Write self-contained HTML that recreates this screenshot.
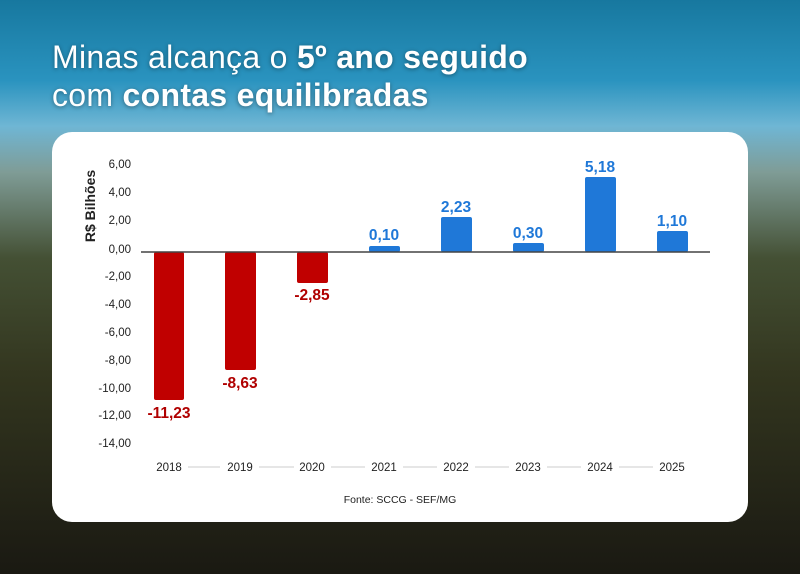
<!DOCTYPE html>
<html><head><meta charset="utf-8"><style>
body{margin:0;width:800px;height:574px;overflow:hidden;position:relative;font-family:"Liberation Sans",sans-serif;
background:linear-gradient(180deg,#17789f 0%,#2a93bf 14%,#6fb6d4 22%,#7f9c96 30%,#445034 45%,#33361f 65%,#1a1912 100%);}
.t{position:absolute;left:52px;color:#fff;font-size:32px;text-shadow:0 1px 4px rgba(0,0,0,.4);letter-spacing:0.3px}
.card{position:absolute;left:52px;top:132px;width:696px;height:390px;background:#fff;border-radius:20px}
</style></head><body>
<div class="t" style="top:39px">Minas alcança o <b>5º ano seguido</b></div>
<div class="t" style="top:77px">com <b>contas equilibradas</b></div>
<div class="card"></div>
<svg width="800" height="574" style="position:absolute;left:0;top:0" font-family="Liberation Sans, sans-serif">
<g font-size="11.5" fill="#222" text-anchor="end">
<text x="131" y="168">6,00</text><text x="131" y="196">4,00</text><text x="131" y="224">2,00</text><text x="131" y="253">0,00</text>
<text x="131" y="280">-2,00</text><text x="131" y="308">-4,00</text><text x="131" y="336">-6,00</text><text x="131" y="364">-8,00</text>
<text x="131" y="392">-10,00</text><text x="131" y="419">-12,00</text><text x="131" y="447">-14,00</text>
</g>
<text transform="translate(95,206) rotate(-90)" text-anchor="middle" font-size="14" font-weight="bold" fill="#222">R$ Bilhões</text>
<g fill="#c00000">
<rect x="154" y="252" width="30" height="148" rx="2"/><rect x="225" y="252" width="31" height="118" rx="2"/><rect x="297" y="252" width="31" height="31" rx="2"/>
</g>
<g fill="#1f78d8">
<rect x="369" y="246" width="31" height="6" rx="2"/><rect x="441" y="217" width="31" height="35" rx="2"/><rect x="513" y="243" width="31" height="9" rx="2"/>
<rect x="585" y="177" width="31" height="75" rx="2"/><rect x="657" y="231" width="31" height="21" rx="2"/>
</g>
<line x1="141" y1="252" x2="710" y2="252" stroke="#444" stroke-width="1.5"/>
<g font-size="15.5" font-weight="bold" text-anchor="middle" fill="#b00000">
<text x="169" y="418">-11,23</text><text x="240" y="388">-8,63</text><text x="312" y="300">-2,85</text>
</g>
<g font-size="15.5" font-weight="bold" text-anchor="middle" fill="#1f78d8">
<text x="384" y="240">0,10</text><text x="456" y="212">2,23</text><text x="528" y="238">0,30</text><text x="600" y="172">5,18</text><text x="672" y="226">1,10</text>
</g>
<g stroke="#ccc" stroke-width="1">
<line x1="188" y1="467" x2="220" y2="467"/><line x1="259" y1="467" x2="294" y2="467"/><line x1="331" y1="467" x2="365" y2="467"/>
<line x1="403" y1="467" x2="437" y2="467"/><line x1="475" y1="467" x2="509" y2="467"/><line x1="547" y1="467" x2="581" y2="467"/><line x1="619" y1="467" x2="653" y2="467"/>
</g>
<g font-size="11.5" fill="#222" text-anchor="middle">
<text x="169" y="471">2018</text><text x="240" y="471">2019</text><text x="312" y="471">2020</text><text x="384" y="471">2021</text>
<text x="456" y="471">2022</text><text x="528" y="471">2023</text><text x="600" y="471">2024</text><text x="672" y="471">2025</text>
<text x="400" y="503" font-size="10.5">Fonte: SCCG - SEF/MG</text>
</g>
</svg>
</body></html>
